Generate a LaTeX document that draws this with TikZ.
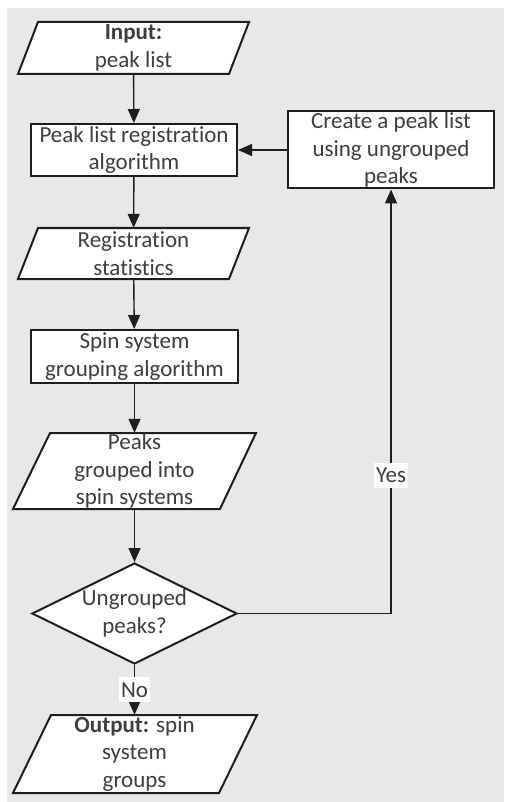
\documentclass[tikz,border=0pt]{standalone}
\usepackage{fontspec}
\setmainfont{Carlito}[Ligatures=NoCommon]
\usetikzlibrary{shapes.geometric,arrows.meta}
\definecolor{bg}{RGB}{232,232,232}
\definecolor{txt}{RGB}{62,62,62}
\definecolor{ln}{RGB}{30,30,30}
\begin{document}
\begin{tikzpicture}[x=1pt,y=-1pt,
  every node/.style={font=\fontsize{23}{27.5}\selectfont, text=txt, align=center, inner sep=0pt},
  box/.style={draw=ln, line width=2pt, fill=white, rectangle},
  shp/.style={draw=ln, line width=2pt, fill=white, line join=miter},
  dmd/.style={draw=ln, line width=2pt, fill=white, diamond, aspect=2.03},
  conn/.style={draw=ln, line width=1.4pt, -{Triangle[width=12pt,length=14pt]}},
  lbl/.style={fill=white, inner xsep=2pt, inner ysep=5pt}]
\useasboundingbox (0,0) rectangle (504,802);
\fill[bg] (7,8) rectangle (504,802);

% parallelogram outlines
\draw[shp] (38,22) -- (249,22) -- (229,74) -- (18,74) -- cycle;
\draw[shp] (38,228) -- (249,228) -- (229,279) -- (18,279) -- cycle;
\draw[shp] (50,433) -- (256,433) -- (220,509) -- (13,509) -- cycle;
\draw[shp] (51,715) -- (257,715) -- (219,793) -- (13,793) -- cycle;

% nodes
\node[minimum width=190pt, minimum height=52pt] (in) at (133.5,48) {\textbf{Input:}\\peak list};
\node[box, minimum width=206pt, minimum height=52pt] (reg) at (134,150) {Peak list registration\\algorithm};
\node[box, minimum width=206pt, minimum height=77pt] (cr) at (391,150) {Create a peak list\\using ungrouped\\peaks};
\node[minimum width=190pt, minimum height=51pt] (st) at (133.5,253.5) {Registration\\statistics};
\node[box, minimum width=207pt, minimum height=53pt] (sp) at (134.5,356.5) {Spin system\\grouping algorithm};
\node[minimum width=190pt, minimum height=76pt] (pk) at (134.5,471) {Peaks\\grouped into\\spin systems};
\node[dmd, minimum width=205pt, minimum height=101pt] (dm) at (134.5,613.5) {Ungrouped\\peaks?};
\node[minimum width=190pt, minimum height=78pt] (out) at (134.5,754) {\textbf{Output:} spin\\system\\groups};

% connectors
\draw[conn] (in) -- (reg);
\draw[conn] (reg) -- (st);
\draw[conn] (st) -- (sp);
\draw[conn] (sp) -- (pk);
\draw[conn] (pk) -- (dm);
\draw[conn] (cr) -- (reg);
\draw[conn] (dm.east) -| (cr.south) node[lbl, pos=0.663] {Yes};
\draw[conn] (dm) -- (out) node[lbl, pos=0.5] {No};
\end{tikzpicture}
\end{document}
